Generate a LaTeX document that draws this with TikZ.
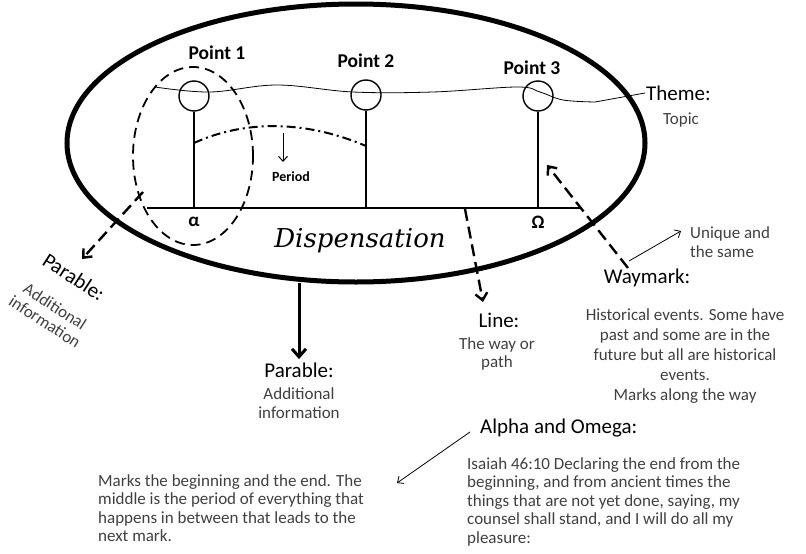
\documentclass[tikz,border=0pt]{standalone}
\usepackage{fontspec}
\setmainfont{Carlito}
\newfontfamily\dispfont{DejaVu Serif}
\usetikzlibrary{arrows.meta}
\tikzset{
  head/.style={font=\fontsize{21}{24}\selectfont},
  hand/.style={font=\fontsize{17}{18.5}\selectfont, text=black!75},
  ptlabel/.style={font=\bfseries\fontsize{19.5}{21}\selectfont},
  waymk/.style={circle, draw, line width=1.4pt, minimum size=30pt, inner sep=0pt},
  dasharrow/.style={line width=2.4pt, dash pattern=on 12pt off 6pt, -{Straight Barb[length=7pt, width=12pt]}},
  thinarrow/.style={line width=0.8pt, -{Straight Barb[length=5pt, width=9pt]}},
}
\begin{document}
\begin{tikzpicture}[x=1pt, y=-1pt]
  \useasboundingbox (0,0) rectangle (806,554);
  % \draw[help lines, step=50pt] (0,0) grid (806,554);
  \draw[line width=5pt] (356,143) ellipse [x radius=289pt, y radius=139pt]; % dispensation
  \draw[line width=1.8pt, dash pattern=on 10pt off 6pt] (193,156) ellipse [x radius=60pt, y radius=89pt]; % point 1

  \node[waymk] (m1) at (194,96) {};
  \node[waymk] (m2) at (366,95) {};
  \node[waymk] (m3) at (538,96) {};
  \node[ptlabel] (p1) at (217,53) {Point 1};
  \node[ptlabel] (p2) at (366,61) {Point 2};
  \node[ptlabel] (p3) at (532,68) {Point 3};

  \coordinate (l0) at (147,208);
  \coordinate (l1) at (580,208);
  \coordinate (b1) at (194,208);
  \coordinate (b2) at (366,208);
  \coordinate (b3) at (538,208);
  \draw[line width=2pt] (l0) -- (l1); % line
  \draw[line width=2pt] (m1.south) -- (b1);
  \draw[line width=2pt] (m2.south) -- (b2);
  \draw[line width=2pt] (m3.south) -- (b3);

  \node[font=\bfseries\fontsize{19}{20}\selectfont] (alpha) at (194,222) {α};
  \node[font=\bfseries\fontsize{19}{20}\selectfont] (omega) at (538,222) {Ω};
  \node[font=\dispfont\itshape\fontsize{26}{28}\selectfont] (disp) at (360,241) {Dispensation};

  % theme
  \node[head, anchor=west, inner sep=1pt] (theme) at (645,93) {Theme:};
  \node[hand] (topic) at (681,120) {Topic};
  \draw[line width=0.8pt] plot[smooth, tension=0.6] coordinates {(155,87) (210,92) (277,85) (353,92) (433,92) (517,87) (540,92) (563,100) (595,102)} -- (theme.west);

  % period
  \draw[line width=2pt, dash pattern=on 9pt off 4pt on 2pt off 4pt] (b1 |- 0,143) .. controls (240,122) and (300,118) .. (b2 |- 0,146);
  \node[font=\bfseries\fontsize{14}{16}\selectfont] (period) at (291,177) {Period};
  \coordinate (per) at (283,133);
  \draw[line width=1pt, -{Straight Barb[length=5pt, width=9pt]}] (per) -- (per |- 0,162);

  % parable, left
  \node[head, rotate=-33] (parL) at (74,277) {Parable:};
  \node[hand, rotate=-33, align=center] (addL) at (50,314) {Additional\\information};
  \coordinate (out1) at (143,192);
  \coordinate (tipL) at (82,259);
  \draw[dasharrow] (out1) -- (tipL);

  % parable, below
  \coordinate (bot) at (299,283);
  \node[head] (par) at (299,370) {Parable:};
  \node[hand, align=center] (add) at (299,403) {Additional\\information};
  \draw[line width=3pt, -{Straight Barb[length=8pt, width=14pt]}] (bot) -- (par.north);

  % line
  \coordinate (lstart) at (465,209);
  \node[head] (line) at (499,320) {Line:};
  \node[hand, align=center] (way) at (497,354) {The way or\\path};
  \draw[dasharrow] (lstart) -- (483,302);

  % waymark
  \node[head] (waymark) at (647,278) {Waymark:};
  \coordinate (wm) at (628,268);
  \coordinate (wmtip) at (547,165);
  \draw[dasharrow] (wm) -- (wmtip);
  \node[hand, align=left, anchor=west, inner sep=0pt] (unique) at (690,242) {Unique and\\the same};
  \coordinate (utip) at (681,231);
  \draw[thinarrow] (629,261) -- (utip);
  \node[hand, align=center, anchor=north, inner sep=0pt, font=\fontsize{17}{20}\selectfont] (events) at (685,308) {Historical events. Some have\\past and some are in the\\future but all are historical\\events.\\Marks along the way};

  % alpha and omega
  \node[head, anchor=west, inner sep=0pt] (ao) at (480,428) {Alpha and Omega:};
  \node[hand, align=left, anchor=north west, inner sep=0pt] (isaiah) at (467,457) {Isaiah 46:10 Declaring the end from the\\beginning, and from ancient times the\\things that are not yet done, saying, my\\counsel shall stand, and I will do all my\\pleasure:};
  \node[hand, align=left, anchor=north west, inner sep=0pt] (marks) at (98,474) {Marks the beginning and the end. The\\middle is the period of everything that\\happens in between that leads to the\\next mark.};
  \coordinate (aostart) at (470,432);
  \coordinate (aotip) at (397,483);
  \draw[thinarrow] (aostart) -- (aotip);
\end{tikzpicture}
\end{document}
